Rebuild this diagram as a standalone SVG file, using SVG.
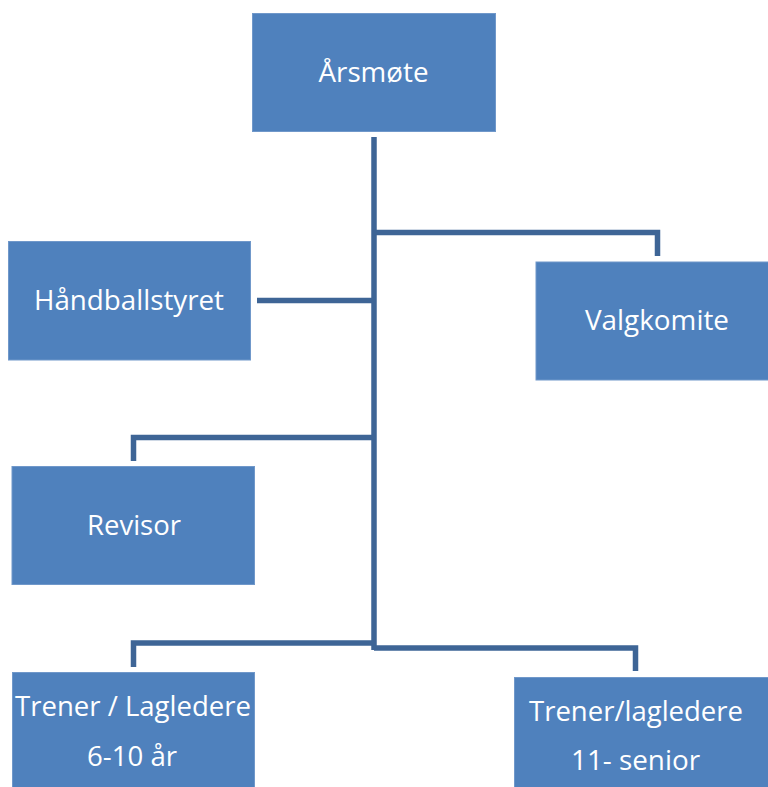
<svg xmlns="http://www.w3.org/2000/svg" width="768" height="787" viewBox="0 0 768 787">
<style>
.box{fill:#4F81BD;stroke:#7098CA;stroke-width:1}
.lbl{fill:#FFFFFF;font-family:"Open Sans","Noto Sans","Liberation Sans",sans-serif;font-size:28px;text-anchor:middle}
.con{fill:none;stroke:#3E6596;stroke-width:5.5;stroke-linecap:butt;stroke-linejoin:miter}
</style>
<rect width="768" height="787" fill="#FFFFFF"/>
<g id="connectors">
<polyline class="con" points="374,137 374,650"/>
<polyline class="con" points="374,232.5 657.5,232.5 657.5,256"/>
<polyline class="con" points="257,300.5 374,300.5"/>
<polyline class="con" points="374,437.5 133.5,437.5 133.5,461"/>
<polyline class="con" points="374,643 133.5,643 133.5,667"/>
<polyline class="con" points="374,648 635.5,648 635.5,671"/>
</g>
<g id="arsmote">
<rect class="box" x="252.5" y="13.5" width="243" height="118"/>
<text class="lbl" x="373.5" y="82" textLength="110" lengthAdjust="spacingAndGlyphs">Årsmøte</text>
</g>
<g id="handballstyret">
<rect class="box" x="8.5" y="241.5" width="242" height="118.5"/>
<text class="lbl" x="129" y="310" textLength="190" lengthAdjust="spacingAndGlyphs">Håndballstyret</text>
</g>
<g id="valgkomite">
<rect class="box" x="536" y="262" width="233" height="118"/>
<text class="lbl" x="657" y="330" textLength="144" lengthAdjust="spacingAndGlyphs">Valgkomite</text>
</g>
<g id="revisor">
<rect class="box" x="12" y="466.5" width="242.5" height="118"/>
<text class="lbl" x="134" y="535" textLength="94" lengthAdjust="spacingAndGlyphs">Revisor</text>
</g>
<g id="trener-6-10">
<rect class="box" x="12.5" y="672.5" width="242" height="120"/>
<text class="lbl" x="133" y="716" textLength="236" lengthAdjust="spacingAndGlyphs">Trener / Lagledere</text>
<text class="lbl" x="132" y="766" textLength="90" lengthAdjust="spacingAndGlyphs">6-10 år</text>
</g>
<g id="trener-11-senior">
<rect class="box" x="514.5" y="677.5" width="254" height="115"/>
<text class="lbl" x="636" y="721" textLength="214" lengthAdjust="spacingAndGlyphs">Trener/lagledere</text>
<text class="lbl" x="635.5" y="770" textLength="129" lengthAdjust="spacingAndGlyphs">11- senior</text>
</g>
</svg>
